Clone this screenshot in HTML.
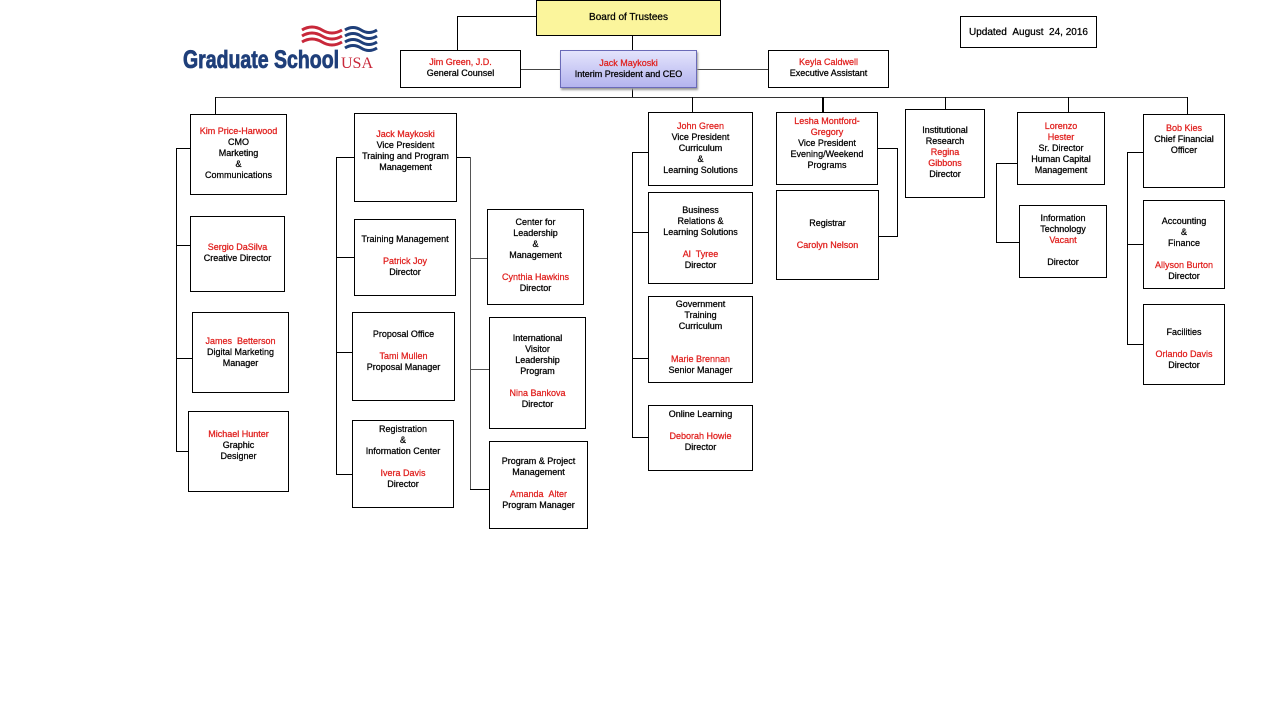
<!DOCTYPE html>
<html><head><meta charset="utf-8"><style>
body{margin:0;width:1280px;height:720px;background:#fff;position:relative;overflow:hidden;font-family:"Liberation Sans",sans-serif}
.b{position:absolute;box-sizing:border-box;border:1px solid #000;background:#fff;text-align:center;font-size:9px;line-height:11px;color:#000;white-space:nowrap;-webkit-text-stroke:0.25px currentColor}
.r{color:#e0201e}
.h{position:absolute;height:1px;background:#000}
.v{position:absolute;width:1px;background:#000}
</style></head><body>
<!-- logo -->
<svg style="position:absolute;left:0;top:0" width="400" height="90">
<g fill="none" stroke-width="3">
<path d="M302 30 q10 -6 20 0 t20 0" stroke="#c8283a"/>
<path d="M302 36 q10 -6 20 0 t20 0" stroke="#c8283a"/>
<path d="M302 42 q10 -6 20 0 t20 0" stroke="#c8283a"/>
<path d="M345 30 q8 -5 16 0 t16 0" stroke="#1f3f7a"/>
<path d="M345 36 q8 -5 16 0 t16 0" stroke="#1f3f7a"/>
<path d="M345 42 q8 -5 16 0 t16 0" stroke="#1f3f7a"/>
<path d="M345 48 q8 -5 16 0 t16 0" stroke="#1f3f7a"/>
</g></svg>
<div style="position:absolute;left:183px;top:46px;font-size:25px;font-weight:bold;color:#1f3f7a;transform:scaleX(0.78);transform-origin:left top;-webkit-text-stroke:0.8px #1f3f7a">Graduate School</div>
<div style="position:absolute;left:341px;top:55px;font-family:'Liberation Serif',serif;font-size:16px;color:#c8283a">USA</div>

<!-- top lines -->
<div class="h" style="left:457px;top:16px;width:80px"></div>
<div class="v" style="left:457px;top:16px;height:34px"></div>
<div class="v" style="left:632px;top:35px;height:15px"></div>
<div class="h" style="left:520px;top:69px;width:40px;background:#444"></div>
<div class="h" style="left:696px;top:69px;width:72px;background:#444"></div>
<div class="v" style="left:632px;top:87px;height:10px"></div>
<div class="h" style="left:215px;top:97px;width:973px;background:#333"></div>
<div class="v" style="left:215px;top:97px;height:17px"></div>
<div class="v" style="left:692px;top:97px;height:15px"></div>
<div class="v" style="left:822px;top:97px;height:15px;width:2px"></div>
<div class="v" style="left:945px;top:97px;height:12px"></div>
<div class="v" style="left:1068px;top:97px;height:15px"></div>
<div class="v" style="left:1187px;top:97px;height:17px"></div>

<div class="b" style="left:536px;top:0;width:185px;height:36px;background:#fbf59c;padding-top:11px;font-size:10px">Board of Trustees</div>
<div class="b" style="left:400px;top:50px;width:121px;height:38px;padding-top:6px"><span class="r">Jim Green, J.D.</span><br>General Counsel</div>
<div class="b" style="left:560px;top:50px;width:137px;height:38px;padding-top:7px;border-color:#6a6ab8;background:linear-gradient(#e4e4fc,#b4b4ee);box-shadow:1px 2px 2px #999"><span class="r">Jack Maykoski</span><br>Interim President and CEO</div>
<div class="b" style="left:768px;top:50px;width:121px;height:38px;padding-top:6px"><span class="r">Keyla Caldwell</span><br>Executive Assistant</div>
<div class="b" style="left:960px;top:16px;width:137px;height:32px;padding-top:10px;font-size:10px">Updated &nbsp;August &nbsp;24, 2016</div>

<!-- col1 -->
<div class="v" style="left:176px;top:148px;height:304px"></div>
<div class="h" style="left:176px;top:148px;width:14px"></div>
<div class="h" style="left:176px;top:245px;width:14px"></div>
<div class="h" style="left:176px;top:358px;width:16px"></div>
<div class="h" style="left:176px;top:451px;width:12px"></div>
<div class="b" style="left:190px;top:114px;width:97px;height:81px;padding-top:11px"><span class="r">Kim Price-Harwood</span><br>CMO<br>Marketing<br>&amp;<br>Communications</div>
<div class="b" style="left:190px;top:216px;width:95px;height:76px;padding-top:25px"><span class="r">Sergio DaSilva</span><br>Creative Director</div>
<div class="b" style="left:192px;top:312px;width:97px;height:81px;padding-top:23px"><span class="r">James &nbsp;Betterson</span><br>Digital Marketing<br>Manager</div>
<div class="b" style="left:188px;top:411px;width:101px;height:81px;padding-top:17px"><span class="r">Michael Hunter</span><br>Graphic<br>Designer</div>

<!-- col2 -->
<div class="v" style="left:336px;top:157px;height:318px"></div>
<div class="h" style="left:336px;top:157px;width:18px"></div>
<div class="h" style="left:336px;top:257px;width:18px"></div>
<div class="h" style="left:336px;top:352px;width:16px"></div>
<div class="h" style="left:336px;top:474px;width:16px"></div>
<div class="h" style="left:456px;top:157px;width:14px"></div>
<div class="v" style="left:470px;top:157px;height:333px;background:#555"></div>
<div class="h" style="left:470px;top:258px;width:17px;background:#555"></div>
<div class="h" style="left:470px;top:369px;width:19px;background:#555"></div>
<div class="h" style="left:470px;top:489px;width:19px"></div>
<div class="b" style="left:354px;top:113px;width:103px;height:89px;padding-top:15px"><span class="r">Jack Maykoski</span><br>Vice President<br>Training and Program<br>Management</div>
<div class="b" style="left:354px;top:219px;width:102px;height:77px;padding-top:14px">Training Management<br><br><span class="r">Patrick Joy</span><br>Director</div>
<div class="b" style="left:352px;top:312px;width:103px;height:89px;padding-top:16px">Proposal Office<br><br><span class="r">Tami Mullen</span><br>Proposal Manager</div>
<div class="b" style="left:352px;top:420px;width:102px;height:88px;padding-top:3px">Registration<br>&amp;<br>Information Center<br><br><span class="r">Ivera Davis</span><br>Director</div>
<div class="b" style="left:487px;top:209px;width:97px;height:96px;padding-top:7px">Center for<br>Leadership<br>&amp;<br>Management<br><br><span class="r">Cynthia Hawkins</span><br>Director</div>
<div class="b" style="left:489px;top:317px;width:97px;height:112px;padding-top:15px">International<br>Visitor<br>Leadership<br>Program<br><br><span class="r">Nina Bankova</span><br>Director</div>
<div class="b" style="left:489px;top:441px;width:99px;height:88px;padding-top:14px">Program &amp; Project<br>Management<br><br><span class="r">Amanda &nbsp;Alter</span><br>Program Manager</div>

<!-- col3 -->
<div class="v" style="left:632px;top:152px;height:286px"></div>
<div class="h" style="left:632px;top:152px;width:16px"></div>
<div class="h" style="left:632px;top:232px;width:16px"></div>
<div class="h" style="left:632px;top:358px;width:16px"></div>
<div class="h" style="left:632px;top:437px;width:16px"></div>
<div class="b" style="left:648px;top:112px;width:105px;height:74px;padding-top:8px"><span class="r">John Green</span><br>Vice President<br>Curriculum<br>&amp;<br>Learning Solutions</div>
<div class="b" style="left:648px;top:192px;width:105px;height:92px;padding-top:12px">Business<br>Relations &amp;<br>Learning Solutions<br><br><span class="r">Al &nbsp;Tyree</span><br>Director</div>
<div class="b" style="left:648px;top:296px;width:105px;height:87px;padding-top:2px">Government<br>Training<br>Curriculum<br><br><br><span class="r">Marie Brennan</span><br>Senior Manager</div>
<div class="b" style="left:648px;top:405px;width:105px;height:66px;padding-top:3px">Online Learning<br><br><span class="r">Deborah Howie</span><br>Director</div>

<!-- Lesha -->
<div class="h" style="left:878px;top:148px;width:19px"></div>
<div class="v" style="left:897px;top:148px;height:89px"></div>
<div class="h" style="left:878px;top:236px;width:19px"></div>
<div class="b" style="left:776px;top:112px;width:102px;height:73px;padding-top:3px"><span class="r">Lesha Montford-<br>Gregory</span><br>Vice President<br>Evening/Weekend<br>Programs</div>
<div class="b" style="left:776px;top:190px;width:103px;height:90px;padding-top:27px">Registrar<br><br><span class="r">Carolyn Nelson</span></div>
<div class="b" style="left:905px;top:109px;width:80px;height:89px;padding-top:15px">Institutional<br>Research<br><span class="r">Regina<br>Gibbons</span><br>Director</div>

<!-- Lorenzo -->
<div class="v" style="left:996px;top:163px;height:80px"></div>
<div class="h" style="left:996px;top:163px;width:21px"></div>
<div class="h" style="left:996px;top:242px;width:23px"></div>
<div class="b" style="left:1017px;top:112px;width:88px;height:73px;padding-top:8px"><span class="r">Lorenzo<br>Hester</span><br>Sr. Director<br>Human Capital<br>Management</div>
<div class="b" style="left:1019px;top:205px;width:88px;height:73px;padding-top:7px">Information<br>Technology<br><span class="r">Vacant</span><br><br>Director</div>

<!-- Bob -->
<div class="v" style="left:1127px;top:152px;height:193px"></div>
<div class="h" style="left:1127px;top:152px;width:16px"></div>
<div class="h" style="left:1127px;top:244px;width:16px"></div>
<div class="h" style="left:1127px;top:344px;width:16px"></div>
<div class="b" style="left:1143px;top:114px;width:82px;height:74px;padding-top:8px"><span class="r">Bob Kies</span><br>Chief Financial<br>Officer</div>
<div class="b" style="left:1143px;top:200px;width:82px;height:89px;padding-top:15px">Accounting<br>&amp;<br>Finance<br><br><span class="r">Allyson Burton</span><br>Director</div>
<div class="b" style="left:1143px;top:304px;width:82px;height:81px;padding-top:22px">Facilities<br><br><span class="r">Orlando Davis</span><br>Director</div>
</body></html>
